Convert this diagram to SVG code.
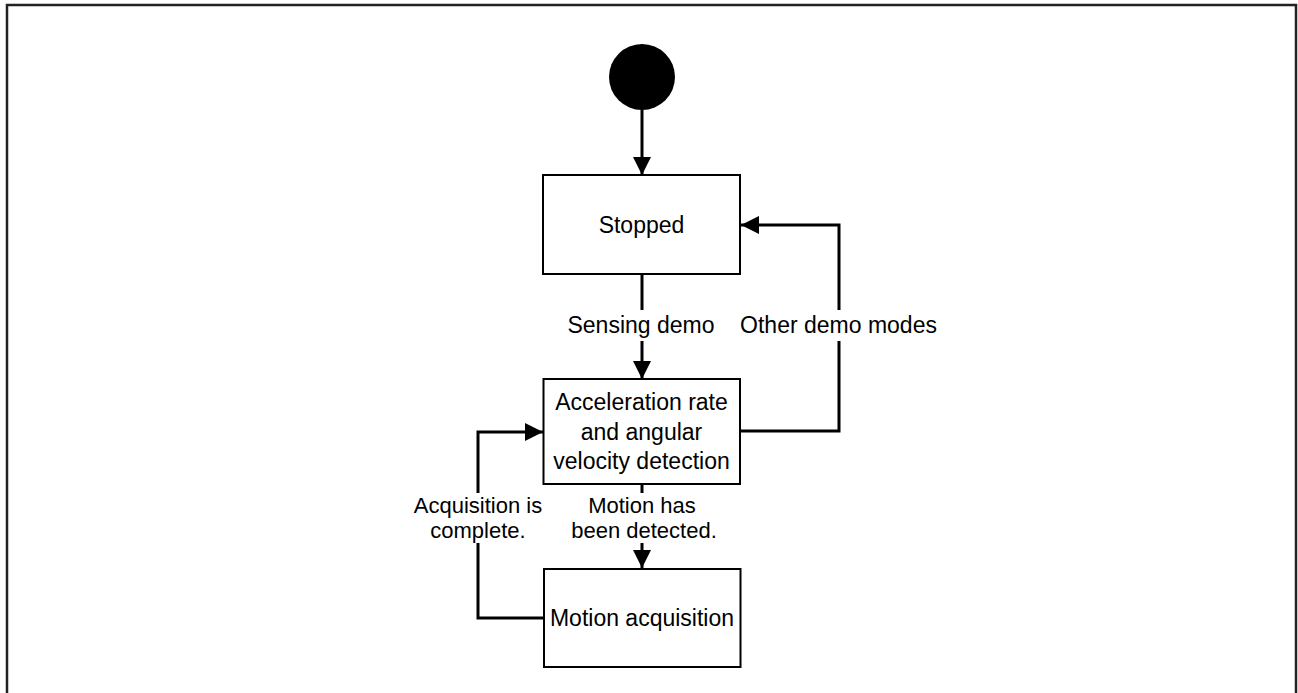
<svg xmlns="http://www.w3.org/2000/svg" width="1298" height="693" viewBox="0 0 1298 693">
  <style>
    .frame { fill: none; stroke: #222; stroke-width: 2.5; }
    .state { fill: #fff; stroke: #000; stroke-width: 2; }
    .label { font-family: "Liberation Sans", Arial, sans-serif; font-size: 23px; fill: #000; text-anchor: middle; dominant-baseline: central; }
    .label.pair { font-size: 22px; }
    .wire { fill: none; stroke: #000; stroke-width: 3; }
    .wire.arrow { marker-end: url(#head); }
  </style>
  <defs>
    <marker id="head" markerUnits="userSpaceOnUse" markerWidth="18" markerHeight="18" refX="18" refY="9" orient="auto">
      <path d="M0,0 L18,9 L0,18 z" fill="#000"/>
    </marker>
  </defs>

  <rect width="1298" height="693" fill="#fff"/>
  <rect class="frame" x="7" y="5" width="1289" height="710"/>

  <!-- transitions -->
  <g id="connectors">
    <!-- initial -> Stopped -->
    <path class="wire arrow" d="M642,110 V175"/>
    <!-- Stopped -> detection (Sensing demo) -->
    <path class="wire" d="M642,274 V310"/>
    <path class="wire arrow" d="M642,341 V379"/>
    <!-- detection -> Stopped (Other demo modes) -->
    <path class="wire" d="M740,431 H839 V341"/>
    <path class="wire arrow" d="M839,310 V225 H741"/>
    <!-- detection -> Motion acquisition -->
    <path class="wire" d="M642,484 V493"/>
    <path class="wire arrow" d="M642,543 V568"/>
    <!-- Motion acquisition -> detection -->
    <path class="wire" d="M544,618 H478 V543"/>
    <path class="wire arrow" d="M478,493 V432 H543"/>
  </g>

  <g id="start">
    <circle cx="642" cy="77" r="33" fill="#000"/>
  </g>

  <g id="stopped">
    <rect class="state" x="543" y="175" width="197" height="99"/>
    <text class="label" x="641.5" y="225">Stopped</text>
  </g>

  <g id="detection">
    <rect class="state" x="543.5" y="379" width="196.5" height="105"/>
    <text class="label" x="641.5" y="402">Acceleration rate</text>
    <text class="label" x="641.5" y="432">and angular</text>
    <text class="label" x="641.5" y="461">velocity detection</text>
  </g>

  <g id="acquisition">
    <rect class="state" x="544" y="569" width="196.5" height="98"/>
    <text class="label" x="642" y="618">Motion acquisition</text>
  </g>

  <g id="transition-labels">
    <text class="label" x="641" y="325">Sensing demo</text>
    <text class="label" x="838.5" y="325">Other demo modes</text>
    <text class="label pair" x="642" y="505.5">Motion has</text>
    <text class="label pair" x="644" y="530.5">been detected.</text>
    <text class="label pair" x="478" y="505.5">Acquisition is</text>
    <text class="label pair" x="478" y="530.5">complete.</text>
  </g>
</svg>
